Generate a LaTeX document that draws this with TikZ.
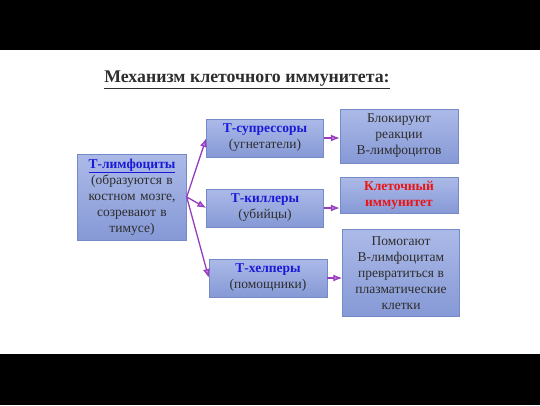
\documentclass[tikz,border=0pt]{standalone}
\usepackage{fontspec}
\setmainfont{Liberation Serif}
\usetikzlibrary{positioning,arrows.meta}
\definecolor{boxtop}{RGB}{172,186,232}
\definecolor{boxbot}{RGB}{134,153,214}
\definecolor{boxline}{RGB}{118,138,200}
\definecolor{arrowc}{RGB}{150,60,190}
\definecolor{arrowfill}{RGB}{205,130,225}
\definecolor{tblue}{RGB}{25,25,215}
\definecolor{tred}{RGB}{235,20,20}
\definecolor{tgray}{RGB}{45,45,45}
\tikzstyle{cell} = [draw=boxline, rectangle, top color=boxtop, bottom color=boxbot, align=center, inner sep=1pt, text=tgray, font=\fontsize{13.5}{16}\selectfont]
\tikzstyle{edge} = [-{Latex[length=9pt,width=7pt,fill=arrowfill]}, draw=arrowc, line width=1.3pt]

\begin{document}
\begin{tikzpicture}[x=1pt,y=-1pt]
	\useasboundingbox (0,0) rectangle (540,405);
	\fill[black] (0,0) rectangle (540,50);
	\fill[black] (0,354) rectangle (540,405);

	\node[text=tgray] (title) at (247,80) {\fontsize{17.8}{20}\selectfont\bfseries\underline{Механизм клеточного иммунитета:}};

	\node[cell, minimum width=109pt, minimum height=86pt, text width=105pt] (tlym) at (132,197) {\textcolor{tblue}{\textbf{\underline{Т-лимфоциты}}}\\(образуются в\\костном мозге,\\созревают в\\тимусе)};
	\node[cell, minimum width=117pt, minimum height=38pt] (tsup) at (265,138) {\textcolor{tblue}{\textbf{Т-супрессоры}}\\(угнетатели)};
	\node[cell, minimum width=117pt, minimum height=38pt] (tkil) at (265,208) {\textcolor{tblue}{\textbf{Т-киллеры}}\\(убийцы)};
	\node[cell, minimum width=118pt, minimum height=38pt] (thel) at (268,278) {\textcolor{tblue}{\textbf{Т-хелперы}}\\(помощники)};

	\node[cell, minimum width=118pt, minimum height=54pt] (block) at (399,136) {Блокируют\\реакции\\В-лимфоцитов};
	\node[cell, minimum width=118pt, minimum height=36pt] (immun) at (399,195) {\textcolor{tred}{\textbf{Клеточный}}\\\textcolor{tred}{\textbf{иммунитет}}};
	\node[cell, minimum width=117pt, minimum height=87pt] (help) at (401,273) {Помогают\\В-лимфоцитам\\превратиться в\\плазматические\\клетки};

	\draw[edge] (tlym.east) -- (tsup.west);
	\draw[edge] (tlym.east) -- (tkil.west);
	\draw[edge] (tlym.east) -- (thel.west);
	\draw[edge] (tsup.east) -- (tsup.east -| block.west);
	\draw[edge] (tkil.east) -- (tkil.east -| immun.west);
	\draw[edge] (thel.east) -- (thel.east -| help.west);
\end{tikzpicture}
\end{document}
